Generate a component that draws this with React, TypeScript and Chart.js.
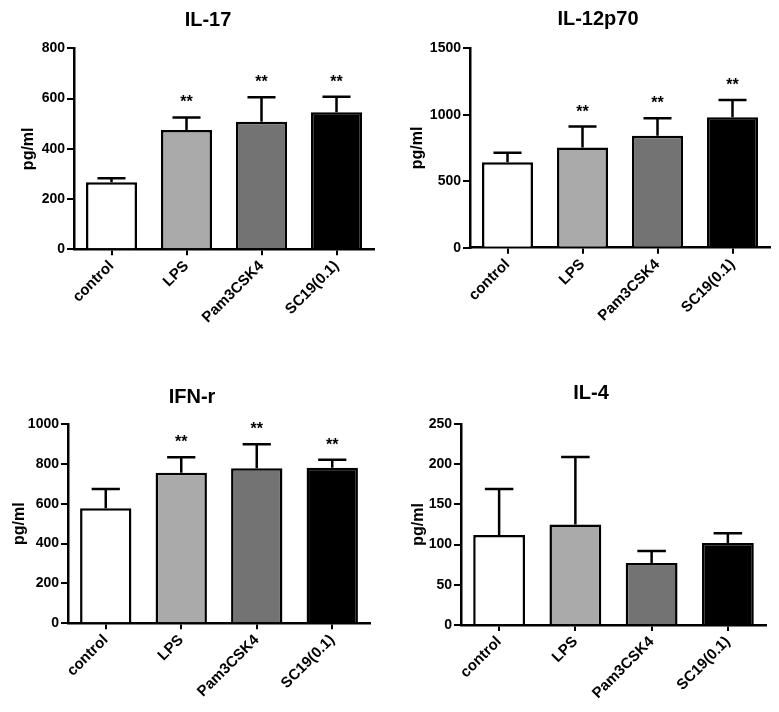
import React, { useEffect, useRef } from 'react';
import { Chart, registerables } from 'chart.js';

Chart.register(...registerables);
Chart.defaults.font.family = "'Liberation Sans', Arial, sans-serif";
Chart.defaults.color = '#000';

// ---- data ----
const categories = ['control', 'LPS', 'Pam3CSK4', 'SC19(0.1)'];
const barColors = ['#ffffff', '#aaaaaa', '#737373', '#000000'];

const il17Mean = [267, 475, 508, 545];
const il17Err = [16, 50, 97, 62];
const il17Sig = ['', '**', '**', '**'];
const il17Ticks = [0, 200, 400, 600, 800];

const il12Mean = [643, 753, 843, 982];
const il12Err = [72, 158, 131, 130];
const il12Sig = ['', '**', '**', '**'];
const il12Ticks = [0, 500, 1000, 1500];

const ifnMean = [577, 756, 778, 781];
const ifnErr = [97, 77, 120, 39];
const ifnSig = ['', '**', '**', '**'];
const ifnTicks = [0, 200, 400, 600, 800, 1000];

const il4Mean = [112, 125, 77, 102];
const il4Err = [57, 84, 15, 12];
const il4Sig = ['', '', '', ''];
const il4Ticks = [0, 50, 100, 150, 200, 250];

const yTitle = 'pg/ml';

// ---- layout (canvas geometry) ----
const W = 389;
const H = 356;

type PanelCfg = {
  title: string;
  means: number[];
  errs: number[];
  sig: string[];
  ticks: number[];
  x: number;
  y: number;
  left: number;
  right: number;
  top: number;
  bottom: number;
  titleX: number;
  titleBase: number;
  yTitleX: number;
};

const panels: PanelCfg[] = [
  { title: 'IL-17', means: il17Mean, errs: il17Err, sig: il17Sig, ticks: il17Ticks,
    x: 0, y: 0, left: 74, right: 374, top: 48.3, bottom: 249.3, titleX: 208, titleBase: 26, yTitleX: 29 },
  { title: 'IL-12p70', means: il12Mean, errs: il12Err, sig: il12Sig, ticks: il12Ticks,
    x: 390, y: 0, left: 80, right: 380, top: 48.3, bottom: 247.7, titleX: 208, titleBase: 25, yTitleX: 28 },
  { title: 'IFN-r', means: ifnMean, errs: ifnErr, sig: ifnSig, ticks: ifnTicks,
    x: 0, y: 356, left: 68, right: 370, top: 68, bottom: 267.3, titleX: 192, titleBase: 47, yTitleX: 20 },
  { title: 'IL-4', means: il4Mean, errs: il4Err, sig: il4Sig, ticks: il4Ticks,
    x: 390, y: 356, left: 71, right: 376, top: 68, bottom: 269, titleX: 201, titleBase: 43, yTitleX: 28.5 },
];

const FONT = "'Liberation Sans', Arial, sans-serif";
const Y_TITLE_SIZE = 16;

function makePlugins(p: PanelCfg) {
  return [
    {
      id: 'errorBarsAndStars',
      afterDatasetsDraw(chart: any) {
        const meta = chart.getDatasetMeta(0);
        const yScale = chart.scales.y;
        const ctx = chart.ctx as CanvasRenderingContext2D;
        ctx.save();
        ctx.strokeStyle = '#000';
        ctx.fillStyle = '#000';
        ctx.lineWidth = 2.5;
        meta.data.forEach((bar: any, i: number) => {
          const top = yScale.getPixelForValue(p.means[i] + p.errs[i]);
          const capW = bar.width * 0.55;
          ctx.beginPath();
          ctx.moveTo(bar.x, bar.y);
          ctx.lineTo(bar.x, top);
          ctx.moveTo(bar.x - capW / 2, top);
          ctx.lineTo(bar.x + capW / 2, top);
          ctx.stroke();
          if (p.sig[i]) {
            ctx.font = `bold 16px ${FONT}`;
            ctx.textAlign = 'center';
            ctx.textBaseline = 'alphabetic';
            ctx.fillText(p.sig[i], bar.x, top - 10);
          }
        });
        ctx.restore();
      },
    },
    {
      id: 'panelTitle',
      afterDraw(chart: any) {
        const ctx = chart.ctx as CanvasRenderingContext2D;
        ctx.save();
        ctx.fillStyle = '#000';
        ctx.font = `bold 20px ${FONT}`;
        ctx.textAlign = 'center';
        ctx.textBaseline = 'alphabetic';
        ctx.fillText(p.title, p.titleX, p.titleBase);
        ctx.restore();
      },
    },
  ];
}

function Panel({ p }: { p: PanelCfg }) {
  const ref = useRef<HTMLCanvasElement>(null);
  useEffect(() => {
    const max = p.ticks[p.ticks.length - 1];
    const step = p.ticks[1] - p.ticks[0];
    const chart = new Chart(ref.current as HTMLCanvasElement, {
      type: 'bar',
      data: {
        labels: categories,
        datasets: [
          {
            data: p.means,
            backgroundColor: barColors,
            borderColor: '#000',
            borderWidth: 2.5,
            borderSkipped: 'start',
            barPercentage: 0.68,
            categoryPercentage: 1,
          } as any,
        ],
      },
      options: {
        responsive: false,
        maintainAspectRatio: false,
        animation: false,
        layout: { padding: { left: 0, right: W - p.right, top: p.top, bottom: 0 } },
        plugins: {
          legend: { display: false },
          tooltip: { enabled: false },
          title: { display: false },
        },
        scales: {
          x: {
            type: 'category',
            offset: true,
            z: 1,
            grid: {
              display: true,
              drawOnChartArea: false,
              drawTicks: true,
              tickLength: 6,
              offset: false,
              color: '#000',
              lineWidth: 2,
            },
            border: { display: true, color: '#000', width: 2.5 },
            ticks: {
              autoSkip: false,
              maxRotation: 45,
              minRotation: 45,
              padding: 2,
              color: '#000',
              font: { size: 15, weight: 'bold' },
            },
            afterFit: (s: any) => {
              s.height = H - p.bottom;
            },
          },
          y: {
            min: 0,
            max,
            ticks: {
              stepSize: step,
              color: '#000',
              padding: 2,
              font: { size: 14, weight: 'bold' },
              callback: (v: any) => String(v),
            },
            grid: {
              drawOnChartArea: false,
              drawTicks: true,
              tickLength: 7,
              color: '#000',
              lineWidth: 2,
            },
            border: { display: true, color: '#000', width: 2.5 },
            title: {
              display: true,
              text: yTitle,
              color: '#000',
              font: { size: Y_TITLE_SIZE, weight: 'bold' },
              padding: { top: p.yTitleX - (Y_TITLE_SIZE * 1.2) / 2, bottom: 0 },
            },
            afterFit: (s: any) => {
              s.width = p.left;
            },
          },
        },
      } as any,
      plugins: makePlugins(p) as any,
    });
    return () => chart.destroy();
  }, []);
  return (
    <canvas
      ref={ref}
      width={W}
      height={H}
      style={{ position: 'absolute', left: p.x, top: p.y, width: W, height: H }}
    />
  );
}

export default function App() {
  return (
    <div
      style={{
        position: 'absolute',
        left: 0,
        top: 0,
        width: 779,
        height: 712,
        background: '#ffffff',
        overflow: 'hidden',
      }}
    >
      {panels.map((p) => (
        <Panel key={p.title} p={p} />
      ))}
    </div>
  );
}
